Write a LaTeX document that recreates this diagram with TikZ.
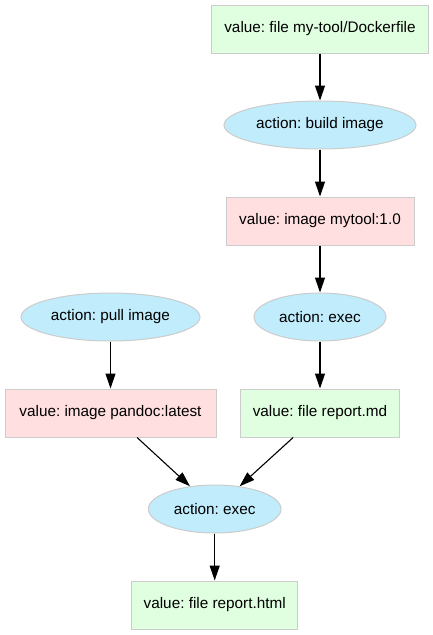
\documentclass[tikz,border=0pt]{standalone}
\usepackage{fontspec}
\setmainfont{Liberation Sans}
\usetikzlibrary{shapes.geometric,arrows.meta}
\definecolor{valgreen}{HTML}{E0FFE0}
\definecolor{valpink}{HTML}{FFDFDF}
\definecolor{actblue}{HTML}{C0ECFC}
\definecolor{bordergray}{HTML}{CCCCCC}
\frenchspacing
\begin{document}
\begin{tikzpicture}[x=1pt,y=-1pt,
  nodebase/.style={font=\fontsize{15.3}{18}\selectfont, inner sep=0pt, draw=bordergray, line width=1pt, text=black},
  valbox/.style={nodebase, rectangle, minimum height=48pt},
  greenbox/.style={valbox, fill=valgreen},
  pinkbox/.style={valbox, fill=valpink},
  actell/.style={nodebase, ellipse, fill=actblue, minimum height=48pt},
  conn/.style={-{Triangle[length=15pt,width=10pt]}, line width=1.1pt, draw=black}]
\useasboundingbox (0,0) rectangle (433,635);
\node[greenbox, minimum width=217pt] (docker) at (320,29) {value: file my-tool/Dockerfile};
\node[actell, minimum width=192pt] (build) at (320,125) {action: build image};
\node[pinkbox, minimum width=188pt] (mytool) at (320,221) {value: image mytool:1.0};
\node[actell, minimum width=132pt] (exec1) at (320,317) {action: exec};
\node[actell, minimum width=179pt] (pull) at (110.5,317) {action: pull image};
\node[pinkbox, minimum width=211pt] (pandoc) at (110.5,413) {value: image pandoc:latest};
\node[greenbox, minimum width=158.6pt] (reportmd) at (320,413) {value: file report.md};
\node[actell, minimum width=132.7pt] (exec2) at (214.7,509) {action: exec};
\node[greenbox, minimum width=166pt] (html) at (214.7,605) {value: file report.html};
\draw[conn] (docker) -- (build);
\draw[conn] (build) -- (mytool);
\draw[conn] (mytool) -- (exec1);
\draw[conn] (exec1) -- (reportmd);
\draw[conn] (pull) -- (pandoc);
\draw[conn] (pandoc) -- (exec2);
\draw[conn] (reportmd) -- (exec2);
\draw[conn] (exec2) -- (html);
\end{tikzpicture}
\end{document}
